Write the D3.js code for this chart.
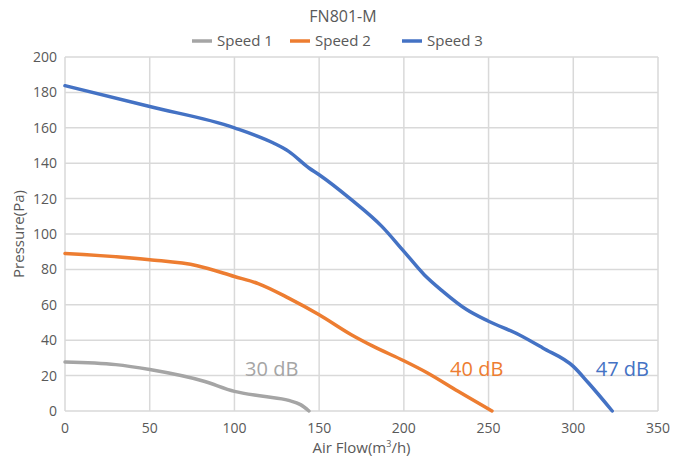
<!DOCTYPE html>
<html>
<head>
<meta charset="utf-8">
<script src="https://cdn.jsdelivr.net/npm/d3@7"></script>
<style>
  body { margin: 0; background: #fff; }
  svg text { font-family: "Open Sans", sans-serif; fill: #595959; }
</style>
</head>
<body>
<svg id="chart" width="687" height="459"></svg>
<script>
// Curvas: vazão (m³/h) e pressão (Pa)
const speed1Flow = [0, 30, 50, 82, 100, 117, 132, 139, 144];
const speed1Pres = [27.7, 26.2, 23.4, 16.8, 11.1, 8.3, 6, 3.6, 0];

const speed2Flow = [0, 50, 78, 100, 114, 132, 150, 169, 182, 200, 214, 232, 252];
const speed2Pres = [89, 85.5, 82.1, 76, 72, 63.8, 54.4, 43.1, 36.5, 28.4, 21.5, 11.1, 0];

const speed3Flow = [0, 50, 100, 123, 132, 144, 150, 169, 187, 200, 212, 223, 237, 250, 268, 282, 300, 309, 323];
const speed3Pres = [183.8, 172, 160, 151.4, 146.7, 137.3, 133.5, 119.4, 104.3, 90.2, 77, 67.6, 57.3, 50.7, 43.1, 35.6, 25.2, 15.8, 0];

const seriesNames = ["Speed 1", "Speed 2", "Speed 3"];
const seriesColors = ["#a5a5a5", "#ed7d31", "#4472c4"];
const noiseLabels = ["30 dB", "40 dB", "47 dB"];
const noiseLabelX = [122, 243, 329]; // centro do rótulo (m³/h)
const noiseLabelY = [24, 24, 24];

const xTicks = [0, 50, 100, 150, 200, 250, 300, 350];
const yTicks = d3.range(0, 201, 20);

const svg = d3.select("#chart");
const margin = { top: 57, right: 29, bottom: 48, left: 65 };
const W = 687, H = 459;

const x = d3.scaleLinear().domain([0, 350]).range([margin.left, W - margin.right]);
const y = d3.scaleLinear().domain([0, 200]).range([H - margin.bottom, margin.top]);

// Grade
svg.append("g").selectAll("line").data(xTicks).enter().append("line")
  .attr("x1", d => x(d)).attr("x2", d => x(d))
  .attr("y1", y(0)).attr("y2", y(200))
  .attr("stroke", "#d9d9d9").attr("stroke-width", 1.5);
svg.append("g").selectAll("line").data(yTicks).enter().append("line")
  .attr("x1", x(0)).attr("x2", x(350))
  .attr("y1", d => y(d)).attr("y2", d => y(d))
  .attr("stroke", "#d9d9d9").attr("stroke-width", 1.5);

// Rótulos dos eixos
svg.append("g").selectAll("text").data(xTicks).enter().append("text")
  .attr("x", d => x(d)).attr("y", y(0) + 22)
  .attr("text-anchor", "middle").attr("font-size", 14)
  .text(d => d);
svg.append("g").selectAll("text").data(yTicks).enter().append("text")
  .attr("x", x(0) - 8).attr("y", d => y(d) + 5)
  .attr("text-anchor", "end").attr("font-size", 14)
  .text(d => d);

// Curvas
const datasets = [
  speed1Flow.map((f, i) => [f, speed1Pres[i]]),
  speed2Flow.map((f, i) => [f, speed2Pres[i]]),
  speed3Flow.map((f, i) => [f, speed3Pres[i]])
];
const line = d3.line()
  .x(d => x(d[0])).y(d => y(d[1]))
  .curve(d3.curveMonotoneX);

svg.append("g").selectAll("path").data(datasets).enter().append("path")
  .attr("d", line)
  .attr("fill", "none")
  .attr("stroke", (d, i) => seriesColors[i])
  .attr("stroke-width", 3.5)
  .attr("stroke-linecap", "round");

// Rótulos de ruído
svg.append("g").selectAll("text").data(noiseLabels).enter().append("text")
  .attr("x", (d, i) => x(noiseLabelX[i]))
  .attr("y", (d, i) => y(noiseLabelY[i]) + 7)
  .attr("font-size", 20)
  .attr("text-anchor", "middle")
  .style("fill", (d, i) => seriesColors[i])
  .text(d => d);

// Título
svg.append("text").attr("x", 343).attr("y", 22)
  .attr("text-anchor", "middle").attr("font-size", 16).text("FN801-M");

// Legenda
const legendX = [192, 290, 402];
const legend = svg.append("g").selectAll("g").data(seriesNames).enter().append("g")
  .attr("transform", (d, i) => `translate(${legendX[i]},41)`);
legend.append("line")
  .attr("x1", 0).attr("x2", 20).attr("y1", 0).attr("y2", 0)
  .attr("stroke", (d, i) => seriesColors[i]).attr("stroke-width", 3.5);
legend.append("text").attr("x", 25).attr("y", 5)
  .attr("font-size", 15).text(d => d);

// Títulos dos eixos
svg.append("text").attr("x", x(175)).attr("y", 453)
  .attr("text-anchor", "middle").attr("font-size", 15)
  .html('Air Flow(m<tspan dy="-6" font-size="9">3</tspan><tspan dy="6">/h)</tspan>');
svg.append("text")
  .attr("transform", `translate(24,${(y(0) + y(200)) / 2}) rotate(-90)`)
  .attr("text-anchor", "middle").attr("font-size", 15)
  .text("Pressure(Pa)");
</script>
</body>
</html>
